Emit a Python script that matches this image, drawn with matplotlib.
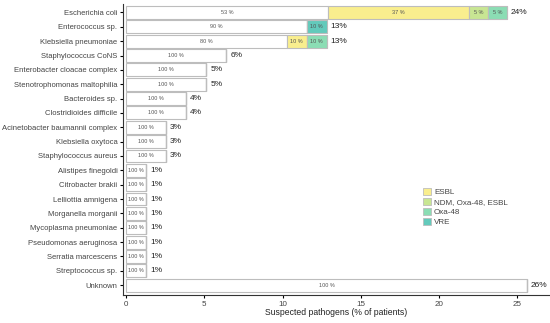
import numpy as np
import matplotlib.pyplot as plt
from matplotlib.patches import Patch

plt.rcParams["font.family"] = ["Liberation Sans", "DejaVu Sans"]

# -------------------- data
pathogens = [
    "Escherichia coli", "Enterococcus sp.", "Klebsiella pneumoniae",
    "Staphylococcus CoNS", "Enterobacter cloacae complex",
    "Stenotrophomonas maltophilia", "Bacteroides sp.", "Clostridioides difficile",
    "Acinetobacter baumannii complex", "Klebsiella oxytoca", "Staphylococcus aureus",
    "Alistipes finegoldi", "Citrobacter brakii", "Lelliottia amnigena",
    "Morganella morganii", "Mycoplasma pneumoniae", "Pseudomonas aeruginosa",
    "Serratia marcescens", "Streptococcus sp.", "Unknown",
]
# % of patients (n = 78)
totals = [24.36, 12.82, 12.82, 6.41, 5.13, 5.13, 3.85, 3.85, 2.56, 2.56, 2.56,
          1.28, 1.28, 1.28, 1.28, 1.28, 1.28, 1.28, 1.28, 25.64]
# share within each pathogen (%)
share_none  = [53, 90, 80, 100, 100, 100, 100, 100, 100, 100, 100,
               100, 100, 100, 100, 100, 100, 100, 100, 100]
share_esbl  = [37, 0, 10] + [0] * 17
share_ndm   = [5, 0, 0] + [0] * 17
share_oxa48 = [5, 0, 10] + [0] * 17
share_vre   = [0, 10, 0] + [0] * 17

res_names  = ["ESBL", "NDM, Oxa-48, ESBL", "Oxa-48", "VRE"]
res_colors = ["#F9EE8E", "#C8E693", "#8BDDB4", "#63CABB"]

# -------------------- plot
fig = plt.figure(figsize=(5.5, 3.23), dpi=100)
ax = fig.add_axes([123 / 550, 28 / 323, 427 / 550, 291 / 323])

y = np.arange(len(pathogens))
tot = np.array(totals)
segments = [(share_none, "white")] + list(zip([share_esbl, share_ndm, share_oxa48, share_vre], res_colors))

left = np.zeros(len(pathogens))
for shares, color in segments:
    sh = np.array(shares, dtype=float)
    w = tot * sh / 100
    ax.barh(y, w, left=left, height=0.9, color=color, edgecolor="#BDBDBD", lw=0.8)
    for i in range(len(y)):
        if sh[i] > 0:
            ax.text(left[i] + w[i] / 2, y[i], f"{int(sh[i])} %", ha="center", va="center",
                    fontsize=4, color="#555555")
    left += w

for i, t in enumerate(tot):
    ax.text(t + 0.25, y[i], f"{round(t):.0f}%", ha="left", va="center",
            fontsize=6, color="#222222")

ax.set_yticks(y)
ax.set_yticklabels(pathogens, fontsize=5.5, color="#444444")
ax.set_ylim(19.69, -0.59)
ax.set_xlim(-0.2, 27.1)
ax.set_xticks([0, 5, 10, 15, 20, 25])
ax.tick_params(axis="x", labelsize=5.8, labelcolor="#444444", length=2.5, width=0.8, pad=1.5)
ax.tick_params(axis="y", length=2.5, width=0.8, pad=1.5)
ax.set_xlabel("Suspected pathogens (% of patients)", fontsize=6.2, color="#222222", labelpad=0)
for s in ["top", "right"]:
    ax.spines[s].set_visible(False)
for s in ["left", "bottom"]:
    ax.spines[s].set_linewidth(0.8)
    ax.spines[s].set_color("#333333")

handles = [Patch(facecolor=c, edgecolor="#BDBDBD", lw=0.6, label=n) for n, c in zip(res_names, res_colors)]
leg = ax.legend(handles=handles, loc="upper left", bbox_to_anchor=(0.696, 0.38), frameon=False,
                fontsize=5.8, handlelength=1.0, handleheight=1.0, handletextpad=0.3,
                labelspacing=0.2, borderaxespad=0)
for t in leg.get_texts():
    t.set_color("#444444")

fig.savefig("out.png", dpi=100)
